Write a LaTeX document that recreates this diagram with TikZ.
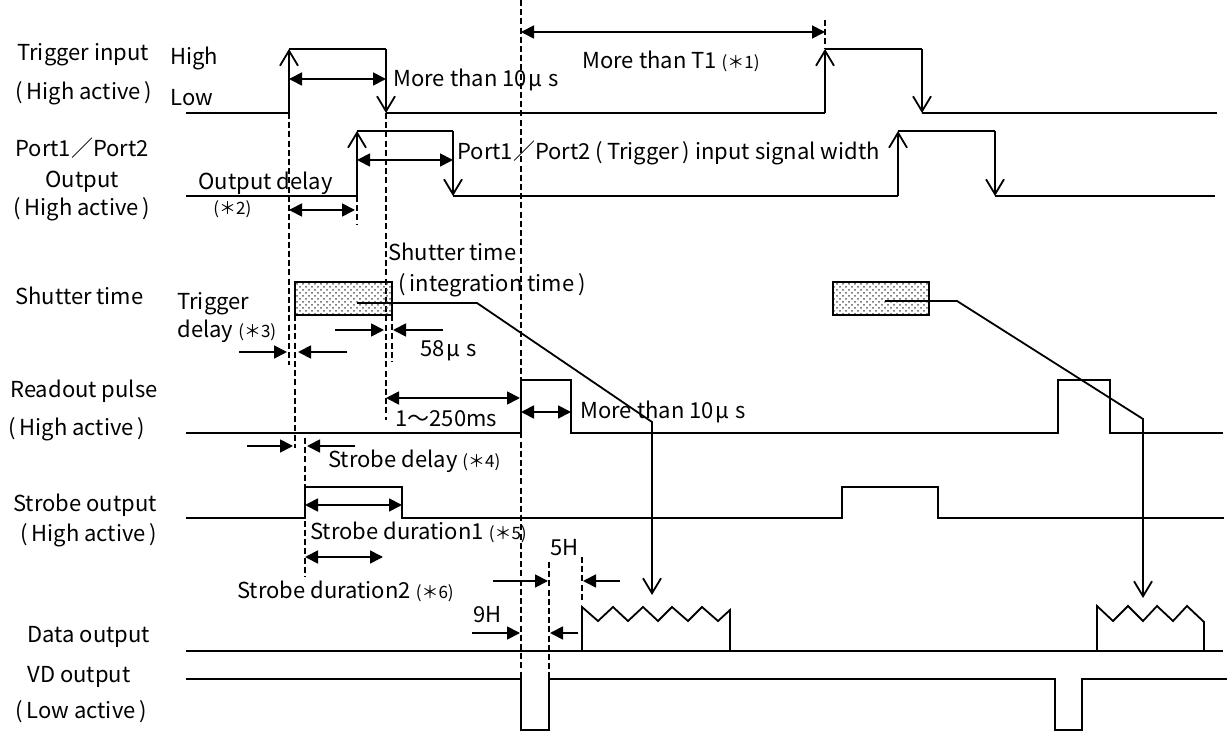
\documentclass[tikz,border=0pt]{standalone}
\usepackage{fontspec}
\setmainfont{Noto Sans CJK JP}
\usetikzlibrary{arrows.meta,patterns}
\tikzset{
  sig/.style={line width=0.9pt},
  edge/.style={line width=0.9pt,-{Straight Barb[length=7.5pt,width=9pt]}},
  dim/.style={line width=0.9pt,{Triangle[length=6.5pt,width=6.5pt]}-{Triangle[length=6.5pt,width=6.5pt]}},
  onedim/.style={line width=0.9pt,-{Triangle[length=6.5pt,width=6.5pt]}},
  guide/.style={line width=0.6pt,dash pattern=on 3pt off 1.6pt},
  lbl/.style={anchor=base west,inner sep=0pt,font=\fontsize{11}{13}\selectfont},
}
\newcommand{\sm}[1]{{\fontsize{8.5}{10}\selectfont(＊#1)}}
\newcommand{\myLP}{(\hspace{2pt}}
\newcommand{\myRP}{\hspace{2pt})}
\newcommand{\myMu}{\hspace{1pt}μ\hspace{3pt}}
\begin{document}
\begin{tikzpicture}[x=0.5pt,y=-0.5pt]
\useasboundingbox (0,0) rectangle (1231,731);
% ---------- left labels ----------
\node[lbl] (l1a) at (17,61) {Trigger input};
\node[lbl] (l1b) at (15,100) {\myLP High active\myRP};
\node[lbl] (hi) at (170,65) {High};
\node[lbl] (lo) at (170,106) {Low};
\node[lbl] (l2a) at (15,157) {Port1／Port2};
\node[lbl] (l2b) at (45,188) {Output};
\node[lbl] (l2c) at (13,216) {\myLP High active\myRP};
\node[lbl] (l3a) at (15,305) {Shutter time};
\node[lbl] (l4a) at (10,398) {Readout pulse};
\node[lbl] (l4b) at (8,436) {\myLP High active\myRP};
\node[lbl] (l5a) at (13,512) {Strobe output};
\node[lbl] (l5b) at (20,542) {\myLP High active\myRP};
\node[lbl] (l6a) at (27,642) {Data output};
\node[lbl] (l7a) at (27,682) {VD output};
\node[lbl] (l7b) at (15,718) {\myLP Low active\myRP};
% ---------- annotations ----------
\node[lbl] (t10) at (393,87) {More than 10\myMu s};
\node[lbl] (tT1) at (582,69) {More than T1 \sm{1}};
\node[lbl] (od) at (198,190) {Output delay};
\node[lbl] (od2) at (213,215) {\sm{2}};
\node[lbl] (pw) at (457,160) {Port1／Port2 \myLP Trigger\myRP{} input signal width};
\node[lbl] (tdA) at (177,310) {Trigger};
\node[lbl] (tdB) at (177,338) {delay \sm{3}};
\node[lbl] (stA) at (388,261) {Shutter time};
\node[lbl] (stB) at (398,292) {\myLP integration time\myRP};
\node[lbl] (f58) at (420,357) {58\myMu s};
\node[lbl] (r250) at (395,427) {1〜250ms};
\node[lbl] (r10) at (580,419) {More than 10\myMu s};
\node[lbl] (sdl) at (328,468) {Strobe delay \sm{4}};
\node[lbl] (sd1) at (310,540) {Strobe duration1 \sm{5}};
\node[lbl] (sd2) at (237,598) {Strobe duration2 \sm{6}};
\node[lbl] (h5) at (550,556) {5H};
\node[lbl] (h9) at (473,622) {9H};
% ---------- guide lines ----------
\draw[guide] (289,113) -- (289,365);
\draw[guide] (295,315) -- (295,448);
\draw[guide] (305,438) -- (305,577);
\draw[guide] (357,196) -- (357,225);
\draw[guide] (386,113) -- (386,420);
\draw[guide] (392,315) -- (392,362);
\draw[guide] (521,0) -- (521,679);
\draw[guide] (549,562) -- (549,679);
\draw[guide] (582,557) -- (582,600);
\draw[guide] (825,20) -- (825,49);
% ---------- trigger input ----------
\draw[sig] (186,113) -- (289,113);
\draw[edge] (289,113) -- (289,49);
\draw[sig] (289,49) -- (386,49);
\draw[edge] (386,49) -- (386,113);
\draw[sig] (386,113) -- (825,113);
\draw[edge] (825,113) -- (825,49);
\draw[sig] (825,49) -- (922,49);
\draw[edge] (922,49) -- (922,113);
\draw[sig] (922,113) -- (1217,113);
\draw[dim] (289,79) -- (386,79);
\draw[dim] (521,32) -- (825,32);
% ---------- port output ----------
\draw[sig] (186,196) -- (357,196);
\draw[edge] (357,196) -- (357,131);
\draw[sig] (357,131) -- (453,131);
\draw[edge] (453,131) -- (453,196);
\draw[sig] (453,196) -- (898,196);
\draw[edge] (898,196) -- (898,131);
\draw[sig] (898,131) -- (995,131);
\draw[edge] (995,131) -- (995,196);
\draw[sig] (995,196) -- (1215,196);
\draw[dim] (357,160) -- (453,160);
\draw[dim] (289,210) -- (355,210);
% ---------- shutter ----------
\draw[sig,pattern=crosshatch dots,pattern color=black!65] (295,282) rectangle (392,315);
\draw[sig,pattern=crosshatch dots,pattern color=black!65] (833,282) rectangle (929,315);
\draw[onedim] (239,352) -- (287,352);
\draw[onedim] (347,352) -- (298,352);
\draw[onedim] (335,330) -- (384,330);
\draw[onedim] (443,330) -- (393,330);
\draw[edge] (357,303) -- (477,303) -- (652,422) -- (652,595);
\draw[edge] (885,301) -- (957,301) -- (1143,419) -- (1143,598);
% ---------- readout ----------
\draw[sig] (186,433) -- (521,433) -- (521,380) -- (571,380) -- (571,433) -- (1058,433) -- (1058,380) -- (1110,380) -- (1110,433) -- (1223,433);
\draw[dim] (386,398) -- (520,398);
\draw[dim] (521,412) -- (571,412);
% ---------- strobe ----------
\draw[onedim] (247,446) -- (293,446);
\draw[onedim] (355,446) -- (307,446);
\draw[sig] (186,518) -- (305,518) -- (305,487) -- (402,487) -- (402,518) -- (842,518) -- (842,487) -- (938,487) -- (938,518) -- (1224,518);
\draw[dim] (305,505) -- (402,505);
\draw[dim] (305,557) -- (383,557);
% ---------- data ----------
\draw[sig] (186,651) -- (1223,651);
\draw[sig] (582,651) -- (582,607) -- (598,621) -- (613,607) -- (628,621) -- (643,607) -- (658,621) -- (672,607) -- (688,621) -- (702,607) -- (718,621) -- (730,610) -- (730,651);
\draw[sig] (1097,651) -- (1097,606) -- (1113,621) -- (1128,606) -- (1143,621) -- (1157,606) -- (1173,621) -- (1187,606) -- (1204,622) -- (1204,651);
\draw[onedim] (493,581) -- (548,581);
\draw[onedim] (620,581) -- (583,581);
\draw[onedim] (472,633) -- (520,633);
\draw[onedim] (578,633) -- (550,633);
% ---------- VD ----------
\draw[sig] (186,679) -- (521,679) -- (521,730) -- (549,730) -- (549,679) -- (1055,679) -- (1055,730) -- (1082,730) -- (1082,679) -- (1227,679);
\end{tikzpicture}
\end{document}
